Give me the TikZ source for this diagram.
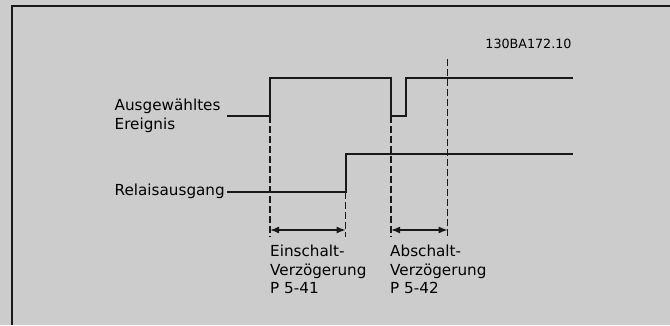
\documentclass[tikz,border=0pt]{standalone}
\usepackage{fontspec}
\setmainfont{DejaVu Sans}
\usetikzlibrary{arrows.meta}
\definecolor{bggray}{gray}{0.8}
\definecolor{sig}{gray}{0.1}

\begin{document}
\begin{tikzpicture}[x=1pt, y=-1pt, >={Latex[length=9pt,width=7pt]},
  signal/.style={draw=sig, line width=1.8pt},
  guide/.style={draw=sig, line width=1.2pt, dash pattern=on 7pt off 3pt},
  lbl/.style={inner sep=0pt, anchor=base west, align=left,
    font=\fontsize{15.2}{18.3}\selectfont}]
  % background and frame
  \fill[bggray] (0,0) rectangle (670,325);
  \useasboundingbox (0,0) rectangle (670,325);
  \draw[sig, line width=2pt] (11.5,325) -- (11.5,6.3) -- (670,6.3);
  % labels (base anchor sits on the last line)
  \node[inner sep=0pt, anchor=base east, font=\fontsize{12.7}{14}\selectfont]
    (code) at (571.7,48.3) {130BA172.10};
  \node[lbl] (event) at (114.5,129) {Ausgewähltes\\Ereignis};
  \node[lbl] (relay) at (114.5,195) {Relaisausgang};
  \node[lbl] (ondelay) at (270,293.3) {Einschalt-\\Verzögerung\\P 5-41};
  \node[lbl] (offdelay) at (390,293.3) {Abschalt-\\Verzögerung\\P 5-42};
  % event signal
  \coordinate (e0) at (227,116);
  \coordinate (e1) at (270,116);
  \coordinate (e2) at (270,78);
  \coordinate (e3) at (391,78);
  \coordinate (e4) at (391,116);
  \coordinate (e5) at (405.7,116);
  \coordinate (e6) at (405.7,78);
  \coordinate (e7) at (572.6,78);
  \draw[signal] (e0) -- (e1) -- (e2) -- (e3) -- (e4) -- (e5) -- (e6) -- (e7);
  % relay signal
  \coordinate (r0) at (227,192);
  \coordinate (r1) at (345.7,192);
  \coordinate (r2) at (345.7,154);
  \coordinate (r3) at (572.6,154);
  \draw[signal] (r0) -- (r1) -- (r2) -- (r3);
  % dashed guides
  \coordinate (g1) at (270,237);
  \coordinate (g2) at (345.7,237);
  \coordinate (g3) at (391,237);
  \coordinate (g4) at (447.7,237);
  \coordinate (g4top) at (447.7,59);
  \draw[guide] (e1) -- (g1);
  \draw[guide] (r1) -- (g2);
  \draw[guide] (e4) -- (g3);
  \draw[guide] (g4top) -- (g4);
  % delay arrows
  \draw[signal, line width=1.5pt, <->] ([yshift=7pt]g1) -- ([yshift=7pt]g2);
  \draw[signal, line width=1.5pt, <->] ([yshift=7pt]g3) -- ([yshift=7pt]g4);
\end{tikzpicture}
\end{document}
